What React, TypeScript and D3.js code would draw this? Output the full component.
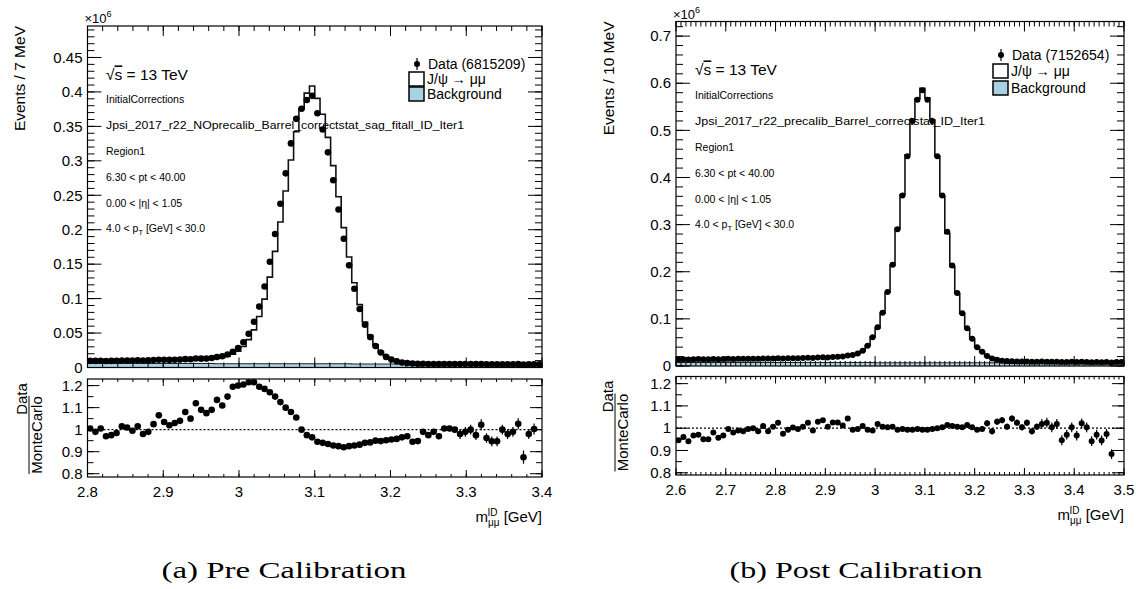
import React from "react";
import * as d3 from "d3";

// ---------- Pre calibration (left) ----------
const preRange = [2.8, 3.4];
const preData = [
  0.00965, 0.0096, 0.00975, 0.0095, 0.00956, 0.00975, 0.01015, 0.0102, 0.01005, 0.01035,
  0.0101, 0.0103, 0.01076, 0.01129, 0.01107, 0.01102, 0.01123, 0.01144, 0.0121, 0.01197,
  0.013, 0.01286, 0.0129, 0.01373, 0.01521, 0.01632, 0.01886, 0.02294, 0.02832, 0.03675,
  0.04909, 0.06634, 0.08843, 0.11755, 0.1535, 0.19378, 0.2376, 0.28182, 0.3253, 0.3609,
  0.3755, 0.3882, 0.3943, 0.3691, 0.3455, 0.3123, 0.2719, 0.2293, 0.1868, 0.1483,
  0.1142, 0.085, 0.0621, 0.0441, 0.0312, 0.0218, 0.0154, 0.01146, 0.00891, 0.00733,
  0.0064, 0.00567, 0.0053, 0.00535, 0.00507, 0.00505, 0.00485, 0.00503, 0.00503, 0.005,
  0.0049, 0.00495, 0.005, 0.00488, 0.00511, 0.00481, 0.00464, 0.00464, 0.0048, 0.0047,
  0.00475, 0.00483, 0.00411, 0.00461, 0.00461, 0.0046,
];
const preMC = [
  0.0096, 0.0097, 0.0097, 0.0098, 0.0098, 0.0099, 0.01, 0.0101, 0.0101, 0.0102,
  0.0103, 0.0104, 0.0105, 0.0106, 0.0107, 0.0108, 0.0109, 0.011, 0.0112, 0.0114,
  0.0116, 0.0118, 0.012, 0.0126, 0.0134, 0.0147, 0.0164, 0.0192, 0.0236, 0.0305,
  0.0404, 0.0546, 0.074, 0.0992, 0.1312, 0.1685, 0.2112, 0.2562, 0.3012, 0.3421,
  0.3755, 0.3982, 0.4086, 0.3906, 0.3676, 0.334, 0.293, 0.2479, 0.203, 0.1603,
  0.1231, 0.0912, 0.0661, 0.0468, 0.0328, 0.023, 0.0162, 0.012, 0.0093, 0.0076,
  0.0066, 0.006, 0.0056, 0.0054, 0.0052, 0.0051, 0.005, 0.005, 0.005, 0.005,
  0.005, 0.005, 0.005, 0.005, 0.005, 0.005, 0.0049, 0.0049, 0.0048, 0.0048,
  0.0048, 0.0047, 0.0047, 0.0047, 0.0046, 0.0046,
];
const preBkg = [
  0.0058, 0.0058, 0.0058, 0.0058, 0.0058, 0.0058, 0.0058, 0.0058, 0.0058, 0.0058,
  0.0058, 0.0058, 0.0058, 0.0058, 0.0058, 0.0058, 0.0058, 0.0058, 0.0058, 0.0058,
  0.0058, 0.0058, 0.0058, 0.0058, 0.0054, 0.0054, 0.0054, 0.0054, 0.0054, 0.0054,
  0.0054, 0.0054, 0.0054, 0.0054, 0.0054, 0.0054, 0.0054, 0.0054, 0.0054, 0.0054,
  0.0054, 0.0054, 0.0054, 0.0054, 0.0054, 0.0054, 0.0054, 0.0054, 0.0054, 0.0054,
  0.005, 0.005, 0.005, 0.005, 0.005, 0.005, 0.005, 0.005, 0.005, 0.005,
  0.005, 0.005, 0.005, 0.005, 0.005, 0.005, 0.005, 0.005, 0.005, 0.005,
  0.005, 0.005, 0.005, 0.005, 0.0045, 0.0045, 0.0045, 0.0045, 0.0045, 0.0045,
  0.0045, 0.0045, 0.0045, 0.0045, 0.0045, 0.0045,
];
const preRatio = [
  1.005, 0.99, 1.005, 0.97, 0.975, 0.985, 1.015, 1.01, 0.995, 1.015,
  0.98, 0.99, 1.025, 1.065, 1.035, 1.02, 1.03, 1.04, 1.08, 1.05,
  1.12, 1.09, 1.075, 1.09, 1.135, 1.11, 1.15, 1.195, 1.2, 1.205,
  1.215, 1.215, 1.195, 1.185, 1.17, 1.15, 1.125, 1.1, 1.08, 1.055,
  1.0, 0.975, 0.965, 0.945, 0.94, 0.935, 0.928, 0.925, 0.92, 0.925,
  0.928, 0.932, 0.94, 0.942, 0.95, 0.948, 0.952, 0.955, 0.958, 0.965,
  0.97, 0.945, 0.948, 0.99, 0.975, 0.99, 0.97, 1.005, 1.005, 1.0,
  0.98, 0.99, 1.0, 0.975, 1.022, 0.962, 0.947, 0.947, 1.0, 0.98,
  0.99, 1.027, 0.875, 0.98, 1.003, null,
];
const preRatioErr = [
  0.008, 0.008, 0.008, 0.008, 0.008, 0.008, 0.008, 0.008, 0.008, 0.008,
  0.008, 0.008, 0.008, 0.008, 0.008, 0.008, 0.008, 0.008, 0.008, 0.008,
  0.006, 0.006, 0.006, 0.006, 0.006, 0.006, 0.006, 0.006, 0.006, 0.006,
  0.006, 0.006, 0.006, 0.006, 0.006, 0.006, 0.006, 0.006, 0.006, 0.006,
  0.006, 0.006, 0.006, 0.006, 0.006, 0.006, 0.006, 0.006, 0.006, 0.006,
  0.006, 0.006, 0.006, 0.006, 0.006, 0.006, 0.006, 0.006, 0.006, 0.006,
  0.012, 0.012, 0.012, 0.012, 0.012, 0.012, 0.012, 0.012, 0.012, 0.012,
  0.022, 0.022, 0.022, 0.022, 0.025, 0.022, 0.022, 0.022, 0.022, 0.022,
  0.022, 0.025, 0.03, 0.022, 0.025, 0.022,
];
const preYTicks = [0, 0.05, 0.1, 0.15, 0.2, 0.25, 0.3, 0.35, 0.4, 0.45];
const preYTickLabels = ["0", "0.05", "0.1", "0.15", "0.2", "0.25", "0.3", "0.35", "0.4", "0.45"];
const preXTicks = [2.8, 2.9, 3.0, 3.1, 3.2, 3.3, 3.4];
const preXTickLabels = ["2.8", "2.9", "3", "3.1", "3.2", "3.3", "3.4"];

// ---------- Post calibration (right) ----------
const postRange = [2.6, 3.5];
const postData = [
  0.014, 0.0142, 0.014, 0.0144, 0.0146, 0.0143, 0.0143, 0.0148, 0.0145, 0.0147,
  0.0152, 0.015, 0.0152, 0.0153, 0.0154, 0.0156, 0.0155, 0.016, 0.0157, 0.0161,
  0.0165, 0.0158, 0.0162, 0.0165, 0.0165, 0.0169, 0.0174, 0.017, 0.018, 0.0184,
  0.0183, 0.0192, 0.0198, 0.0203, 0.0224, 0.0233, 0.0264, 0.0323, 0.043, 0.061,
  0.082, 0.113, 0.157, 0.215, 0.29, 0.362, 0.445, 0.52, 0.565, 0.585,
  0.565, 0.52, 0.445, 0.362, 0.285, 0.213, 0.155, 0.112, 0.08, 0.058,
  0.04, 0.03, 0.021, 0.016, 0.013, 0.011, 0.0105, 0.01, 0.0096, 0.0093,
  0.0094, 0.0091, 0.0092, 0.0093, 0.0092, 0.009, 0.0092, 0.0084, 0.0086, 0.0088,
  0.0085, 0.0089, 0.0087, 0.0082, 0.0084, 0.0081, 0.0084, 0.0075, 0.0085, 0.0084,
];
const postMC = [
  0.0148, 0.0148, 0.0149, 0.0149, 0.015, 0.015, 0.0151, 0.0151, 0.0152, 0.0152,
  0.0153, 0.0153, 0.0154, 0.0155, 0.0155, 0.0156, 0.0157, 0.0158, 0.0159, 0.016,
  0.0161, 0.0162, 0.0163, 0.0165, 0.0166, 0.0168, 0.017, 0.0172, 0.0175, 0.0178,
  0.0182, 0.0187, 0.0193, 0.0201, 0.0215, 0.0235, 0.0265, 0.032, 0.0433, 0.0616,
  0.0805, 0.1122, 0.1564, 0.2135, 0.292, 0.3634, 0.4481, 0.5237, 0.5673, 0.5891,
  0.569, 0.5221, 0.445, 0.3606, 0.2811, 0.2109, 0.1539, 0.1116, 0.0789, 0.0578,
  0.0403, 0.0301, 0.0205, 0.0162, 0.0126, 0.0106, 0.0104, 0.0096, 0.0094, 0.0093,
  0.0092, 0.0092, 0.0091, 0.0091, 0.009, 0.009, 0.009, 0.0089, 0.0089, 0.0088,
  0.0088, 0.0087, 0.0087, 0.0087, 0.0086, 0.0086, 0.0086, 0.0085, 0.0085, 0.0085,
];
const postBkg = [
  0.0075, 0.0075, 0.0075, 0.0075, 0.0075, 0.0075, 0.0075, 0.0075, 0.0075, 0.0075,
  0.0075, 0.0075, 0.0075, 0.0075, 0.0075, 0.0075, 0.0075, 0.0075, 0.0075, 0.0075,
  0.0075, 0.0075, 0.0075, 0.0075, 0.0075, 0.0075, 0.0075, 0.0075, 0.0075, 0.0075,
  0.0075, 0.0075, 0.0075, 0.0075, 0.0075, 0.0075, 0.0075, 0.0075, 0.0075, 0.0075,
  0.007, 0.007, 0.007, 0.007, 0.007, 0.007, 0.007, 0.007, 0.007, 0.007,
  0.007, 0.007, 0.007, 0.007, 0.007, 0.007, 0.007, 0.007, 0.007, 0.007,
  0.007, 0.007, 0.007, 0.007, 0.007, 0.007, 0.0055, 0.0055, 0.0055, 0.0055,
  0.0055, 0.0055, 0.0055, 0.0055, 0.0055, 0.0055, 0.0055, 0.0055, 0.0055, 0.0055,
  0.0055, 0.0055, 0.0055, 0.0055, 0.0055, 0.0055, 0.0055, 0.0055, 0.0055, 0.0055,
];
const postRatio = [
  0.946, 0.96, 0.942, 0.967, 0.971, 0.95, 0.95, 0.981, 0.957, 0.967,
  0.996, 0.981, 0.99, 0.986, 0.996, 1.0, 0.986, 1.01, 0.986, 1.007,
  1.025, 0.975, 0.993, 1.003, 0.996, 1.007, 1.025, 0.99, 1.029, 1.036,
  1.007, 1.026, 1.026, 1.012, 1.043, 0.993, 0.996, 1.01, 0.993, 0.99,
  1.019, 1.007, 1.004, 1.007, 0.993, 0.996, 0.993, 0.993, 0.996, 0.993,
  0.993, 0.996, 1.0, 1.004, 1.014, 1.01, 1.007, 1.004, 1.014, 1.004,
  0.993, 0.996, 1.022, 0.986, 1.029, 1.036, 1.007, 1.043, 1.025, 1.004,
  1.025, 0.986, 1.007, 1.019, 1.025, 1.004, 1.019, 0.946, 0.971, 1.004,
  0.967, 1.022, 1.004, 0.942, 0.971, 0.945, 0.974, 0.884, null, null,
];
const postRatioErr = [
  0.008, 0.008, 0.008, 0.008, 0.008, 0.008, 0.008, 0.008, 0.008, 0.008,
  0.008, 0.008, 0.008, 0.008, 0.008, 0.008, 0.008, 0.008, 0.008, 0.008,
  0.008, 0.008, 0.008, 0.008, 0.008, 0.008, 0.008, 0.008, 0.008, 0.008,
  0.008, 0.008, 0.008, 0.008, 0.008, 0.004, 0.004, 0.004, 0.004, 0.004,
  0.004, 0.004, 0.004, 0.004, 0.004, 0.004, 0.004, 0.004, 0.004, 0.004,
  0.004, 0.004, 0.004, 0.004, 0.004, 0.004, 0.004, 0.004, 0.004, 0.004,
  0.004, 0.004, 0.014, 0.014, 0.014, 0.014, 0.014, 0.014, 0.014, 0.014,
  0.014, 0.014, 0.014, 0.022, 0.022, 0.022, 0.022, 0.022, 0.022, 0.022,
  0.022, 0.022, 0.022, 0.022, 0.022, 0.022, 0.022, 0.022, 0.022, 0.022,
];
const postYTicks = [0, 0.1, 0.2, 0.3, 0.4, 0.5, 0.6, 0.7];
const postYTickLabels = ["0", "0.1", "0.2", "0.3", "0.4", "0.5", "0.6", "0.7"];
const postXTicks = [2.6, 2.7, 2.8, 2.9, 3.0, 3.1, 3.2, 3.3, 3.4, 3.5];
const postXTickLabels = ["2.6", "2.7", "2.8", "2.9", "3", "3.1", "3.2", "3.3", "3.4", "3.5"];

const ratioTicks = [0.8, 0.9, 1.0, 1.1, 1.2];
const ratioTickLabels = ["0.8", "0.9", "1", "1.1", "1.2"];

const SANS = "'Liberation Sans', Arial, Helvetica, sans-serif";
const BKG_COLOR = "#a8d2e4";

type PanelProps = {
  x0: number; x1: number;
  top: number; mid: number; rTop: number; rBot: number;
  range: number[]; yMax: number; yMinor: number; xMinor: number;
  rDomain: number[];
  data: number[]; mc: number[]; bkg: number[]; ratio: (number | null)[]; ratioErr: number[];
  yTicks: number[]; yTickLabels: string[]; xTicks: number[]; xTickLabels: string[];
  yTitle: string; yTitleX: number;
  fracX: number;
  dataLabel: string; legX: number; legY: number[];
  infoX: number; infoY: number[]; tagLine: string; tagLen: number;
  r: number;
};

function Panel(p: PanelProps) {
  const n = p.data.length;
  const x = d3.scaleLinear().domain(p.range).range([p.x0, p.x1]);
  const y = d3.scaleLinear().domain([0, p.yMax]).range([p.mid, p.top]);
  const yr = d3.scaleLinear().domain(p.rDomain).range([p.rBot, p.rTop]);
  const bw = (p.range[1] - p.range[0]) / n;
  const edge = (i: number) => p.range[0] + i * bw;
  const center = (i: number) => p.range[0] + (i + 0.5) * bw;

  const stepPts = (vals: number[]) => {
    const pts: [number, number][] = [];
    vals.forEach((v, i) => {
      pts.push([edge(i), v]);
      pts.push([edge(i + 1), v]);
    });
    return pts;
  };
  const line = d3.line<[number, number]>().x((d) => x(d[0])).y((d) => y(d[1]));
  const area = d3
    .area<[number, number]>()
    .x((d) => x(d[0]))
    .y0(y(0))
    .y1((d) => y(d[1]));

  const yMinorTicks = d3.range(0, p.yMax + 1e-9, p.yMinor);
  const xMinorTicks = d3.range(p.range[0], p.range[1] + 1e-9, p.xMinor);
  const rMinorTicks = d3.range(0.8, 1.2001, 0.05);

  const clipId = `clip${Math.round(p.x0)}`;
  const fs = 15;
  const small = 10.5;

  return (
    <g>
      <defs>
        <clipPath id={clipId}>
          <rect x={p.x0} y={p.top} width={p.x1 - p.x0} height={p.mid - p.top} />
        </clipPath>
        <clipPath id={clipId + "r"}>
          <rect x={p.x0} y={p.rTop} width={p.x1 - p.x0} height={p.rBot - p.rTop} />
        </clipPath>
      </defs>

      {/* ---- upper panel ---- */}
      <g clipPath={`url(#${clipId})`}>
        <path d={area(stepPts(p.bkg)) || ""} fill={BKG_COLOR} stroke="none" />
        <path d={line(stepPts(p.bkg)) || ""} fill="none" stroke="#222" strokeWidth={1.1} />
        <path d={line(stepPts(p.mc)) || ""} fill="none" stroke="#111" strokeWidth={1.6} />
        {p.data.map((v, i) => (
          <circle key={i} cx={x(center(i))} cy={y(v)} r={p.r} fill="#000" />
        ))}
      </g>
      <rect x={p.x0} y={p.top} width={p.x1 - p.x0} height={p.mid - p.top} fill="none" stroke="#000" strokeWidth={1.2} />

      {yMinorTicks.map((t, i) => (
        <g key={"ym" + i}>
          <line x1={p.x0} x2={p.x0 + 7} y1={y(t)} y2={y(t)} stroke="#000" />
          <line x1={p.x1} x2={p.x1 - 7} y1={y(t)} y2={y(t)} stroke="#000" />
        </g>
      ))}
      {p.yTicks.map((t, i) => (
        <g key={"yM" + i}>
          <line x1={p.x0} x2={p.x0 + 14} y1={y(t)} y2={y(t)} stroke="#000" />
          <line x1={p.x1} x2={p.x1 - 14} y1={y(t)} y2={y(t)} stroke="#000" />
          <text x={p.x0 - 5} y={y(t)} dy="0.35em" textAnchor="end" fontSize={fs} fontFamily={SANS}>
            {p.yTickLabels[i]}
          </text>
        </g>
      ))}
      {xMinorTicks.map((t, i) => (
        <g key={"xm" + i}>
          <line x1={x(t)} x2={x(t)} y1={p.mid} y2={p.mid - 5} stroke="#000" />
          <line x1={x(t)} x2={x(t)} y1={p.top} y2={p.top + 5} stroke="#000" />
        </g>
      ))}
      {p.xTicks.map((t, i) => (
        <g key={"xM" + i}>
          <line x1={x(t)} x2={x(t)} y1={p.mid} y2={p.mid - 10} stroke="#000" />
          <line x1={x(t)} x2={x(t)} y1={p.top} y2={p.top + 10} stroke="#000" />
        </g>
      ))}

      <text x={p.x0 - 3} y={p.top - 3} fontSize={13} fontFamily={SANS}>
        ×10<tspan dy={-6} fontSize={9}>6</tspan>
      </text>

      <text
        transform={`translate(${p.yTitleX},${p.top}) rotate(-90)`}
        textAnchor="end"
        fontSize={15.5}
        fontFamily={SANS}
      >
        {p.yTitle}
      </text>

      <text x={p.infoX} y={p.infoY[0]} dy="0.35em" fontSize={15.5} fontFamily={SANS}>
        √<tspan style={{ textDecoration: "overline" }}>s</tspan> = 13 TeV
      </text>
      <text x={p.infoX} y={p.infoY[1]} dy="0.35em" fontSize={small} fontFamily={SANS}>InitialCorrections</text>
      <text x={p.infoX} y={p.infoY[2]} dy="0.35em" fontSize={small} fontFamily={SANS}
        textLength={p.tagLen} lengthAdjust="spacingAndGlyphs">{p.tagLine}</text>
      <text x={p.infoX} y={p.infoY[3]} dy="0.35em" fontSize={small} fontFamily={SANS}>Region1</text>
      <text x={p.infoX} y={p.infoY[4]} dy="0.35em" fontSize={small} fontFamily={SANS}>6.30 &lt; pt &lt; 40.00</text>
      <text x={p.infoX} y={p.infoY[5]} dy="0.35em" fontSize={small} fontFamily={SANS}>0.00 &lt; |η| &lt; 1.05</text>
      <text x={p.infoX} y={p.infoY[6]} dy="0.35em" fontSize={small} fontFamily={SANS}>
        4.0 &lt; p<tspan dy={3} fontSize={7.5}>T</tspan><tspan dy={-3}> [GeV] &lt; 30.0</tspan>
      </text>

      <line x1={p.legX + 8} x2={p.legX + 8} y1={p.legY[0] - 6} y2={p.legY[0] + 6} stroke="#000" strokeWidth={1.2} />
      <circle cx={p.legX + 8} cy={p.legY[0]} r={3} fill="#000" />
      <text x={p.legX + 19} y={p.legY[0]} dy="0.35em" fontSize={14} fontFamily={SANS}>{p.dataLabel}</text>
      <rect x={p.legX} y={p.legY[1] - 7} width={15} height={14} fill="#fff" stroke="#000" strokeWidth={1.5} />
      <text x={p.legX + 18} y={p.legY[1]} dy="0.35em" fontSize={14} fontFamily={SANS}>J/ψ → μμ</text>
      <rect x={p.legX} y={p.legY[2] - 7} width={15} height={14} fill={BKG_COLOR} stroke="#000" strokeWidth={1.5} />
      <text x={p.legX + 18} y={p.legY[2]} dy="0.35em" fontSize={14} fontFamily={SANS}>Background</text>

      {/* ---- ratio panel ---- */}
      <line x1={p.x0} x2={p.x1} y1={yr(1)} y2={yr(1)} stroke="#000" strokeWidth={1.3} strokeDasharray="2,2" />
      <g clipPath={`url(#${clipId}r)`}>
        {p.ratio.map((v, i) =>
          v == null ? null : (
            <g key={i}>
              <line
                x1={x(center(i))}
                x2={x(center(i))}
                y1={yr(v - p.ratioErr[i])}
                y2={yr(v + p.ratioErr[i])}
                stroke="#000"
                strokeWidth={1.2}
              />
              <circle cx={x(center(i))} cy={yr(v)} r={p.r} fill="#000" />
            </g>
          )
        )}
      </g>
      <rect x={p.x0} y={p.rTop} width={p.x1 - p.x0} height={p.rBot - p.rTop} fill="none" stroke="#000" strokeWidth={1.2} />
      {rMinorTicks.map((t, i) => (
        <g key={"rm" + i}>
          <line x1={p.x0} x2={p.x0 + 6} y1={yr(t)} y2={yr(t)} stroke="#000" />
          <line x1={p.x1} x2={p.x1 - 6} y1={yr(t)} y2={yr(t)} stroke="#000" />
        </g>
      ))}
      {ratioTicks.map((t, i) => (
        <g key={"rM" + i}>
          <line x1={p.x0} x2={p.x0 + 12} y1={yr(t)} y2={yr(t)} stroke="#000" />
          <line x1={p.x1} x2={p.x1 - 12} y1={yr(t)} y2={yr(t)} stroke="#000" />
          <text x={p.x0 - 5} y={yr(t)} dy="0.35em" textAnchor="end" fontSize={fs} fontFamily={SANS}>
            {ratioTickLabels[i]}
          </text>
        </g>
      ))}
      {xMinorTicks.map((t, i) => (
        <g key={"rxm" + i}>
          <line x1={x(t)} x2={x(t)} y1={p.rBot} y2={p.rBot - 3} stroke="#000" />
          <line x1={x(t)} x2={x(t)} y1={p.rTop} y2={p.rTop + 3} stroke="#000" />
        </g>
      ))}
      {p.xTicks.map((t, i) => (
        <g key={"rxM" + i}>
          <line x1={x(t)} x2={x(t)} y1={p.rBot} y2={p.rBot - 7} stroke="#000" />
          <line x1={x(t)} x2={x(t)} y1={p.rTop} y2={p.rTop + 7} stroke="#000" />
          <text x={x(t)} y={p.rBot + 20} textAnchor="middle" fontSize={fs} fontFamily={SANS}>
            {p.xTickLabels[i]}
          </text>
        </g>
      ))}

      {/* Data / MonteCarlo fraction, aligned toward the top of the axis */}
      <g transform={`translate(${p.fracX},${p.rTop}) rotate(-90)`}>
        <text x={-20} y={-3} textAnchor="middle" fontSize={15} fontFamily={SANS}>Data</text>
        <line x1={-95} x2={-17} y1={-1} y2={-1} stroke="#000" strokeWidth={1} />
        <text x={-56} y={12} textAnchor="middle" fontSize={15} fontFamily={SANS}>MonteCarlo</text>
      </g>

      <text x={p.x1} y={p.rBot + 45} textAnchor="end" fontSize={15} fontFamily={SANS}>
        m<tspan fontSize={10} dy={4}>μμ</tspan>
        <tspan fontSize={10} dx={-12} dy={-10}>ID</tspan>
        <tspan dy={6} dx={2}> [GeV]</tspan>
      </text>
    </g>
  );
}

export default function App() {
  return (
    <svg
      width={1137}
      height={589}
      viewBox="0 0 1137 589"
      style={{ position: "absolute", left: 0, top: 0, background: "#fff" }}
    >
      <rect x={0} y={0} width={1137} height={589} fill="#fff" />
      <Panel
        x0={87.5} x1={542} top={26} mid={367.5} rTop={379} rBot={477}
        range={preRange} yMax={0.4957} yMinor={0.01} xMinor={0.02} rDomain={[0.785, 1.23]}
        data={preData} mc={preMC} bkg={preBkg} ratio={preRatio} ratioErr={preRatioErr}
        yTicks={preYTicks} yTickLabels={preYTickLabels} xTicks={preXTicks} xTickLabels={preXTickLabels}
        yTitle="Events / 7 MeV" yTitleX={25}
        fracX={30}
        dataLabel="Data (6815209)" legX={409} legY={[64, 79, 94]}
        infoX={106} infoY={[75, 99, 125, 151, 177, 203, 228]}
        tagLine="Jpsi_2017_r22_NOprecalib_Barrel_correctstat_sag_fitall_ID_Iter1" tagLen={358}
        r={3.3}
      />
      <Panel
        x0={676} x1={1124} top={21.5} mid={366} rTop={376.5} rBot={475}
        range={postRange} yMax={0.731} yMinor={0.02} xMinor={0.01} rDomain={[0.79, 1.232]}
        data={postData} mc={postMC} bkg={postBkg} ratio={postRatio} ratioErr={postRatioErr}
        yTicks={postYTicks} yTickLabels={postYTickLabels} xTicks={postXTicks} xTickLabels={postXTickLabels}
        yTitle="Events / 10 MeV" yTitleX={614}
        fracX={616}
        dataLabel="Data (7152654)" legX={993} legY={[55, 71, 88]}
        infoX={695} infoY={[70, 95, 121, 147, 173, 199, 224]}
        tagLine="Jpsi_2017_r22_precalib_Barrel_correctstat_ID_Iter1" tagLen={290}
        r={3}
      />
      <text x={284} y={578} textAnchor="middle" fontSize={23} fontFamily="'Liberation Serif', 'DejaVu Serif', serif"
        textLength={245} lengthAdjust="spacingAndGlyphs">
        (a) Pre Calibration
      </text>
      <text x={856} y={578} textAnchor="middle" fontSize={23} fontFamily="'Liberation Serif', 'DejaVu Serif', serif"
        textLength={253} lengthAdjust="spacingAndGlyphs">
        (b) Post Calibration
      </text>
    </svg>
  );
}
